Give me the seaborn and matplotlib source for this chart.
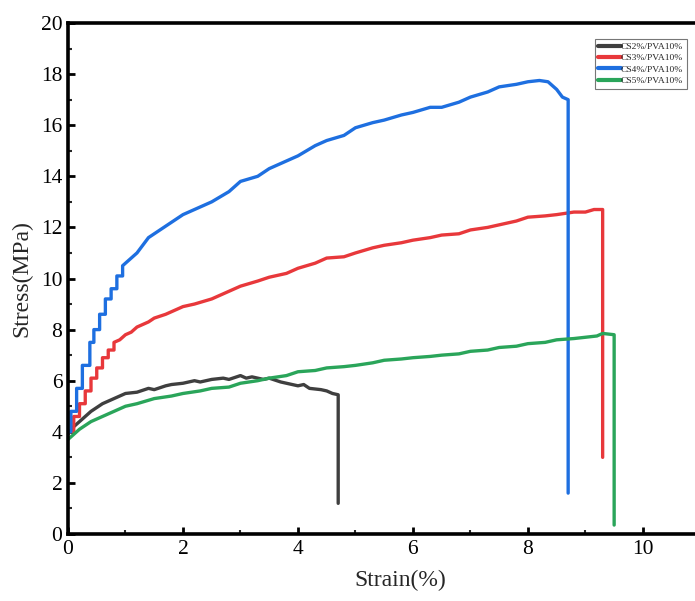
import matplotlib
matplotlib.use("Agg")
import matplotlib.pyplot as plt
import seaborn as sns
import pandas as pd
from matplotlib.ticker import MultipleLocator

# ---- data ----
cs2_strain = [0.0, 0.1, 0.2, 0.3, 0.4, 0.5, 0.6, 0.7, 0.8, 0.9, 1.0, 1.2, 1.4, 1.5, 1.7, 1.8, 2.0, 2.2, 2.3, 2.5, 2.7, 2.8, 3.0, 3.1, 3.2, 3.4, 3.5, 3.7, 3.8, 4.0, 4.1, 4.2, 4.4, 4.5, 4.6, 4.7, 4.7]
cs2_stress = [3.9, 4.2, 4.4, 4.6, 4.8, 4.95, 5.1, 5.2, 5.3, 5.4, 5.5, 5.55, 5.7, 5.65, 5.8, 5.85, 5.9, 6.0, 5.95, 6.05, 6.1, 6.05, 6.2, 6.1, 6.15, 6.05, 6.1, 5.95, 5.9, 5.8, 5.85, 5.7, 5.65, 5.6, 5.5, 5.45, 1.2]

cs3_strain = [0.0, 0.1, 0.1, 0.2, 0.2, 0.3, 0.3, 0.4, 0.4, 0.5, 0.5, 0.6, 0.6, 0.7, 0.7, 0.8, 0.8, 0.9, 1.0, 1.1, 1.2, 1.4, 1.5, 1.7, 1.8, 2.0, 2.2, 2.5, 2.8, 3.0, 3.3, 3.5, 3.8, 4.0, 4.3, 4.5, 4.8, 5.0, 5.3, 5.5, 5.8, 6.0, 6.3, 6.5, 6.8, 7.0, 7.3, 7.5, 7.8, 8.0, 8.3, 8.5, 8.8, 9.0, 9.15, 9.3, 9.3]
cs3_stress = [4.0, 4.0, 4.6, 4.6, 5.1, 5.1, 5.6, 5.6, 6.1, 6.1, 6.5, 6.5, 6.9, 6.9, 7.2, 7.2, 7.5, 7.6, 7.8, 7.9, 8.1, 8.3, 8.45, 8.6, 8.7, 8.9, 9.0, 9.2, 9.5, 9.7, 9.9, 10.05, 10.2, 10.4, 10.6, 10.8, 10.85, 11.0, 11.2, 11.3, 11.4, 11.5, 11.6, 11.7, 11.75, 11.9, 12.0, 12.1, 12.25, 12.4, 12.45, 12.5, 12.6, 12.6, 12.7, 12.7, 3.0]

cs4_strain = [0.0, 0.05, 0.05, 0.15, 0.15, 0.25, 0.25, 0.38, 0.38, 0.45, 0.45, 0.55, 0.55, 0.65, 0.65, 0.75, 0.75, 0.85, 0.85, 0.95, 0.95, 1.1, 1.2, 1.3, 1.4, 1.6, 1.8, 2.0, 2.2, 2.5, 2.8, 3.0, 3.3, 3.5, 3.8, 4.0, 4.3, 4.5, 4.8, 5.0, 5.3, 5.5, 5.8, 6.0, 6.3, 6.5, 6.8, 7.0, 7.3, 7.5, 7.8, 8.0, 8.2, 8.35, 8.5, 8.6, 8.7, 8.7]
cs4_stress = [4.0, 4.0, 4.8, 4.8, 5.7, 5.7, 6.6, 6.6, 7.5, 7.5, 8.0, 8.0, 8.6, 8.6, 9.2, 9.2, 9.6, 9.6, 10.1, 10.1, 10.5, 10.8, 11.0, 11.3, 11.6, 11.9, 12.2, 12.5, 12.7, 13.0, 13.4, 13.8, 14.0, 14.3, 14.6, 14.8, 15.2, 15.4, 15.6, 15.9, 16.1, 16.2, 16.4, 16.5, 16.7, 16.7, 16.9, 17.1, 17.3, 17.5, 17.6, 17.7, 17.75, 17.7, 17.4, 17.1, 17.0, 1.6]

cs5_strain = [0.0, 0.1, 0.2, 0.3, 0.4, 0.5, 0.6, 0.8, 1.0, 1.2, 1.5, 1.8, 2.0, 2.3, 2.5, 2.8, 3.0, 3.3, 3.5, 3.8, 4.0, 4.3, 4.5, 4.8, 5.0, 5.3, 5.5, 5.8, 6.0, 6.3, 6.5, 6.8, 7.0, 7.3, 7.5, 7.8, 8.0, 8.3, 8.5, 8.8, 9.0, 9.2, 9.3, 9.5, 9.5]
cs5_stress = [3.7, 3.9, 4.1, 4.25, 4.4, 4.5, 4.6, 4.8, 5.0, 5.1, 5.3, 5.4, 5.5, 5.6, 5.7, 5.75, 5.9, 6.0, 6.1, 6.2, 6.35, 6.4, 6.5, 6.55, 6.6, 6.7, 6.8, 6.85, 6.9, 6.95, 7.0, 7.05, 7.15, 7.2, 7.3, 7.35, 7.45, 7.5, 7.6, 7.65, 7.7, 7.75, 7.85, 7.8, 0.35]

labels = ["CS2%/PVA10%", "CS3%/PVA10%", "CS4%/PVA10%", "CS5%/PVA10%"]
colors = ["#3f3f3f", "#e8383b", "#1e6fe0", "#2aa55a"]

frames = []
for lab, xs, ys in zip(labels, [cs2_strain, cs3_strain, cs4_strain, cs5_strain],
                       [cs2_stress, cs3_stress, cs4_stress, cs5_stress]):
    frames.append(pd.DataFrame({"Strain": xs, "Stress": ys, "Sample": lab}))
df = pd.concat(frames, ignore_index=True)

sns.set_theme(style="white")
plt.rcParams["font.family"] = ["Liberation Serif", "DejaVu Serif"]

fig = plt.figure(figsize=(6.95, 6.01), dpi=100)
ax = fig.add_axes([68/695, 67/601, 664/695, 511/601])

sns.lineplot(data=df, x="Strain", y="Stress", hue="Sample", palette=colors,
             hue_order=labels, sort=False, estimator=None, units="Sample",
             linewidth=2.4, ax=ax, legend=True)

ax.set_xlim(0, 11.55)
ax.set_ylim(0, 20)
ax.xaxis.set_major_locator(MultipleLocator(2))
ax.xaxis.set_minor_locator(MultipleLocator(1))
ax.yaxis.set_major_locator(MultipleLocator(2))
ax.yaxis.set_minor_locator(MultipleLocator(1))
ax.tick_params(which="major", direction="in", length=5, width=2, labelsize=15.5, pad=4,
               left=True, bottom=True, colors="black")
ax.tick_params(which="minor", direction="in", length=3, width=1.5, left=True, bottom=True)
for s in ["left", "bottom", "top"]:
    ax.spines[s].set_linewidth(2.6)
    ax.spines[s].set_color("black")
ax.spines["right"].set_visible(False)

ax.set_xlabel("Strain(%)", fontsize=17, labelpad=8)
ax.set_ylabel("Stress(MPa)", fontsize=17, labelpad=6)

leg = ax.legend(loc="upper left", bbox_to_anchor=(595/695, 1 - 39/601), bbox_transform=fig.transFigure,
                fontsize=6.8, frameon=True, fancybox=False, edgecolor="#555555",
                handlelength=2.4, handletextpad=0.0, borderpad=0.35, labelspacing=0.3,
                borderaxespad=0)
leg.get_frame().set_linewidth(0.8)
for h in leg.get_lines():
    h.set_linewidth(3)

fig.savefig("out.png", dpi=100)
